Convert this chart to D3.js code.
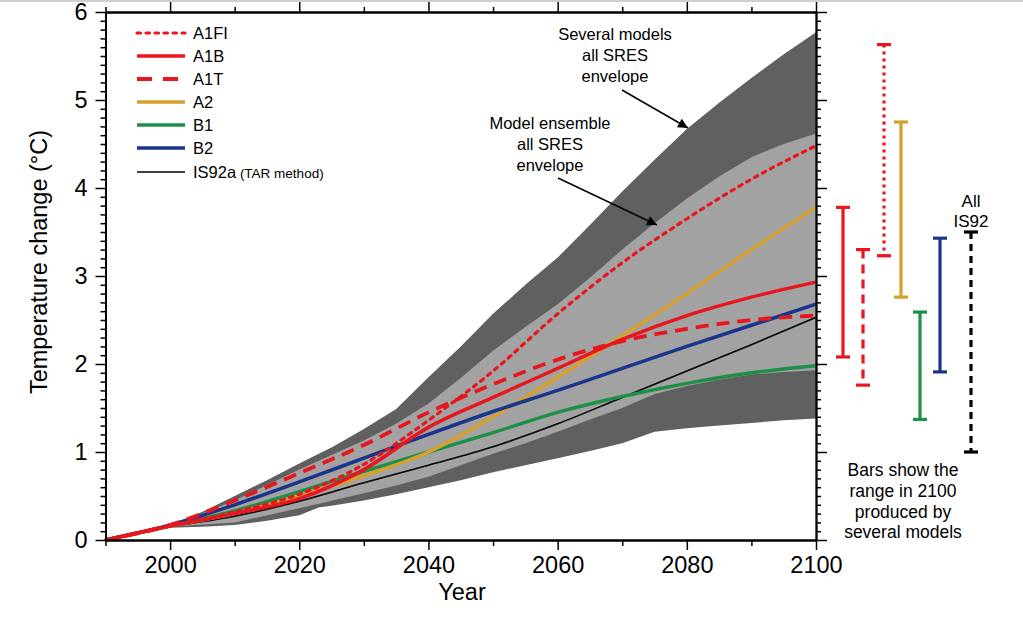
<!DOCTYPE html>
<html><head><meta charset="utf-8">
<script src="https://cdn.jsdelivr.net/npm/d3@7"></script>
<style>
html,body{margin:0;padding:0;background:#fff;}
svg{display:block;font-family:"Liberation Sans",Arial,Helvetica,sans-serif;}
</style></head>
<body>
<svg id="chart" width="1023" height="625"></svg>
<script>
// ---------------- DATA ----------------
const years = [1990, 2000, 2010, 2020, 2030, 2040, 2050, 2060, 2070, 2080, 2090, 2100];
const seriesNames = ["A1FI", "A1B", "A1T", "A2", "B1", "B2", "IS92a"];
const A1FI  = [0, 0.16, 0.32, 0.52, 0.86, 1.36, 1.92, 2.57, 3.15, 3.65, 4.10, 4.48];
const A1B   = [0, 0.16, 0.30, 0.47, 0.80, 1.28, 1.62, 1.95, 2.28, 2.55, 2.76, 2.93];
const A1T   = [0, 0.17, 0.45, 0.76, 1.08, 1.45, 1.77, 2.05, 2.26, 2.40, 2.50, 2.55];
const A2    = [0, 0.16, 0.30, 0.50, 0.73, 1.00, 1.40, 1.85, 2.32, 2.80, 3.30, 3.78];
const B1    = [0, 0.16, 0.33, 0.55, 0.78, 1.00, 1.22, 1.45, 1.63, 1.78, 1.90, 1.98];
const B2    = [0, 0.17, 0.40, 0.66, 0.93, 1.20, 1.46, 1.70, 1.95, 2.20, 2.44, 2.68];
const IS92a = [0, 0.15, 0.27, 0.44, 0.65, 0.85, 1.06, 1.32, 1.62, 1.92, 2.22, 2.53];

// Several models, all SRES envelope (outer, dark)
const outerYears = [1990,2000,2005,2010,2015,2020,2023,2025,2030,2035,2040,2045,2050,2055,2060,2065,2070,2075,2080,2085,2090,2095,2100];
const outerUpper = [0,0.17,0.32,0.50,0.68,0.87,0.98,1.05,1.26,1.49,1.85,2.20,2.57,2.90,3.21,3.58,3.96,4.32,4.67,4.97,5.25,5.52,5.77];
const outerLower = [0,0.14,0.15,0.17,0.22,0.28,0.37,0.39,0.45,0.52,0.60,0.68,0.77,0.85,0.93,1.01,1.10,1.23,1.27,1.30,1.33,1.36,1.38];

// Model ensemble, all SRES envelope (inner, light)
const innerYears = [1990,2000,2010,2020,2030,2035,2040,2045,2050,2055,2060,2065,2070,2075,2080,2085,2090,2095,2100];
const innerUpper = [0,0.16,0.45,0.80,1.13,1.32,1.55,1.84,2.15,2.42,2.68,2.98,3.30,3.60,3.88,4.13,4.35,4.50,4.62];
const innerLower = [0,0.15,0.20,0.36,0.53,0.62,0.72,0.85,0.98,1.10,1.23,1.37,1.50,1.66,1.75,1.82,1.88,1.91,1.93];

// Range bars in 2100
const barNames = ["A1B", "A1T", "A1FI", "A2", "B1", "B2", "IS92"];
const barLow   = [2.08, 1.76, 3.23, 2.76, 1.37, 1.91, 1.00];
const barHigh  = [3.78, 3.30, 5.63, 4.75, 2.59, 3.43, 3.50];

// Tick labels
const xTickLabels = [2000, 2020, 2040, 2060, 2080, 2100];
const yTickLabels = [0, 1, 2, 3, 4, 5, 6];

// ---------------- LAYOUT / STYLE ----------------
const W = 1023, H = 625;
const L = 105.5, R = 816, T = 12, B = 540;
const barX = [843, 863, 884, 901, 920, 940, 971];
const RED = "#e8161e", GOLD = "#d7a02c", GREEN = "#1d8f47", BLUE = "#1b358c";
const DARK = "#606060", LIGHT = "#a2a2a2";
const styles = {
  A1FI:  {color: RED,   width: 3.2, dash: "3.5,5.5", cap: "round"},
  A1B:   {color: RED,   width: 3.5, dash: null},
  A1T:   {color: RED,   width: 3.8, dash: "13,8"},
  A2:    {color: GOLD,  width: 3.5, dash: null},
  B1:    {color: GREEN, width: 3.5, dash: null},
  B2:    {color: BLUE,  width: 3.5, dash: null},
  IS92a: {color: "#000", width: 1.6, dash: null}
};
const barStyles = {
  A1B:  {color: RED,   dash: null},
  A1T:  {color: RED,   dash: "9,6"},
  A1FI: {color: RED,   dash: "3,4"},
  A2:   {color: GOLD,  dash: null},
  B1:   {color: GREEN, dash: null},
  B2:   {color: BLUE,  dash: null},
  IS92: {color: "#000", dash: "7,5"}
};

const svg = d3.select("#chart");
const x = d3.scaleLinear().domain([1990, 2100]).range([L, R]);
const y = d3.scaleLinear().domain([0, 6]).range([B, T]);

// faint top border line of the image
svg.append("line").attr("x1", 0).attr("x2", W).attr("y1", 1).attr("y2", 1)
  .attr("stroke", "#cfcfcf").attr("stroke-width", 2);

// ---------------- ENVELOPES ----------------
const outerData = outerYears.map((yr, i) => ({yr, lo: outerLower[i], hi: outerUpper[i]}));
const innerData = innerYears.map((yr, i) => ({yr, lo: innerLower[i], hi: innerUpper[i]}));
const area = d3.area().x(d => x(d.yr)).y0(d => y(d.lo)).y1(d => y(d.hi));
svg.append("path").datum(outerData).attr("d", area).attr("fill", DARK);
svg.append("path").datum(innerData).attr("d", area).attr("fill", LIGHT);

// ---------------- LINES ----------------
const seriesVals = {A1FI, A1B, A1T, A2, B1, B2, IS92a};
const line = d3.line().x(d => x(d.yr)).y(d => y(d.v)).curve(d3.curveMonotoneX);
const drawOrder = ["IS92a", "B1", "A2", "B2", "A1B", "A1T", "A1FI"];
drawOrder.forEach(name => {
  const st = styles[name];
  const data = years.map((yr, i) => ({yr, v: seriesVals[name][i]}));
  svg.append("path").datum(data).attr("d", line)
    .attr("fill", "none").attr("stroke", st.color).attr("stroke-width", st.width)
    .attr("stroke-dasharray", st.dash).attr("stroke-linecap", st.cap || "butt");
});

// ---------------- AXES ----------------
const majorY = yTickLabels;
const minorY = d3.range(0, 60).map(i => i / 10).filter(v => Math.abs(v - Math.round(v)) > 1e-6);
const majorX = xTickLabels;
const minorX = [1990, 2010, 2030, 2050, 2070, 2090];

function styleAxis(g) {
  g.selectAll("path.domain").attr("stroke", "#000").attr("stroke-width", 1.8);
  g.selectAll(".tick line").attr("stroke", "#000").attr("stroke-width", 1.5);
}
// left
svg.append("g").attr("transform", `translate(${L},0)`)
  .call(d3.axisLeft(y).tickValues(minorY).tickSize(5).tickFormat("").tickSizeOuter(0)).call(styleAxis);
svg.append("g").attr("transform", `translate(${L},0)`)
  .call(d3.axisLeft(y).tickValues(majorY).tickSize(10).tickPadding(8).tickFormat(d3.format("d")).tickSizeOuter(0))
  .call(styleAxis)
  .call(g => g.selectAll("text").attr("font-size", 23.5).attr("fill", "#000").attr("font-family", "Liberation Sans, Arial, sans-serif"));
// right
svg.append("g").attr("transform", `translate(${R},0)`)
  .call(d3.axisRight(y).tickValues(minorY).tickSize(5).tickFormat("").tickSizeOuter(0)).call(styleAxis);
svg.append("g").attr("transform", `translate(${R},0)`)
  .call(d3.axisRight(y).tickValues(majorY).tickSize(11).tickFormat("").tickSizeOuter(0)).call(styleAxis);
// bottom
svg.append("g").attr("transform", `translate(0,${B})`)
  .call(d3.axisBottom(x).tickValues(minorX).tickSize(6).tickFormat("").tickSizeOuter(0)).call(styleAxis);
svg.append("g").attr("transform", `translate(0,${B})`)
  .call(d3.axisBottom(x).tickValues(majorX).tickSize(10).tickPadding(6).tickFormat(d3.format("d")).tickSizeOuter(0))
  .call(styleAxis)
  .call(g => g.selectAll("text").attr("font-size", 23.5).attr("fill", "#000").attr("font-family", "Liberation Sans, Arial, sans-serif"));
// top
svg.append("g").attr("transform", `translate(0,${T})`)
  .call(d3.axisTop(x).tickValues(minorX).tickSize(5).tickFormat("").tickSizeOuter(0)).call(styleAxis);
svg.append("g").attr("transform", `translate(0,${T})`)
  .call(d3.axisTop(x).tickValues(majorX).tickSize(10).tickFormat("").tickSizeOuter(0)).call(styleAxis);

// axis titles
svg.append("text").attr("x", 462).attr("y", 600).attr("text-anchor", "middle")
  .attr("font-size", 23.5).text("Year");
svg.append("text").attr("transform", `translate(47,${(T + B) / 2 - 14}) rotate(-90)`)
  .attr("text-anchor", "middle").attr("font-size", 23.5).text("Temperature change (°C)");

// ---------------- LEGEND ----------------
const legRowY = [33, 56, 79, 102, 125, 148, 172];
const lg = svg.append("g");
seriesNames.forEach((name, i) => {
  const st = styles[name];
  const yy = legRowY[i];
  lg.append("line").attr("x1", 137).attr("x2", 185).attr("y1", yy).attr("y2", yy)
    .attr("stroke", st.color).attr("stroke-width", st.width)
    .attr("stroke-dasharray", name === "A1T" ? "15,11" : st.dash)
    .attr("stroke-linecap", st.cap || "butt");
  const t = lg.append("text").attr("x", 193).attr("y", yy + 6).attr("font-size", 16.5);
  t.append("tspan").text(name);
  if (name === "IS92a") t.append("tspan").attr("font-size", 13.5).text(" (TAR method)");
});

// ---------------- RANGE BARS ----------------
const capW = 7;
barNames.forEach((name, i) => {
  const st = barStyles[name];
  const bx = barX[i], y1 = y(barHigh[i]), y2 = y(barLow[i]);
  const g = svg.append("g");
  g.append("line").attr("x1", bx).attr("x2", bx).attr("y1", y1).attr("y2", y2)
    .attr("stroke", st.color).attr("stroke-width", 3.2).attr("stroke-dasharray", st.dash);
  [y1, y2].forEach(yy => g.append("line").attr("x1", bx - capW).attr("x2", bx + capW)
    .attr("y1", yy).attr("y2", yy).attr("stroke", st.color).attr("stroke-width", 3.2));
});
svg.append("text").attr("x", 971).attr("text-anchor", "middle").attr("font-size", 17)
  .selectAll("tspan").data(["All", "IS92"]).join("tspan")
  .attr("x", 971).attr("y", (d, i) => 207 + i * 20).text(d => d);

svg.append("text").attr("text-anchor", "middle").attr("font-size", 17.5)
  .selectAll("tspan").data(["Bars show the", "range in 2100", "produced by", "several models"]).join("tspan")
  .attr("x", 903).attr("y", (d, i) => 476 + i * 20.8).text(d => d);

// ---------------- ANNOTATIONS ----------------
const defs = svg.append("defs");
defs.append("marker").attr("id", "arrow").attr("viewBox", "0 0 10 10").attr("refX", 10).attr("refY", 5)
  .attr("markerWidth", 14).attr("markerHeight", 10).attr("markerUnits", "userSpaceOnUse").attr("orient", "auto")
  .append("path").attr("d", "M0,0 L10,5 L0,10 Z").attr("fill", "#000");

svg.append("text").attr("text-anchor", "middle").attr("font-size", 16.5)
  .selectAll("tspan").data(["Several models", "all SRES", "envelope"]).join("tspan")
  .attr("x", 615).attr("y", (d, i) => 40 + i * 21).text(d => d);
svg.append("line").attr("x1", 622).attr("y1", 90).attr("x2", 688).attr("y2", 128)
  .attr("stroke", "#000").attr("stroke-width", 1.5).attr("marker-end", "url(#arrow)");

svg.append("text").attr("text-anchor", "middle").attr("font-size", 16.5)
  .selectAll("tspan").data(["Model ensemble", "all SRES", "envelope"]).join("tspan")
  .attr("x", 550).attr("y", (d, i) => 129 + i * 21).text(d => d);
svg.append("line").attr("x1", 558).attr("y1", 178).attr("x2", 657).attr("y2", 225)
  .attr("stroke", "#000").attr("stroke-width", 1.5).attr("marker-end", "url(#arrow)");
</script>
</body></html>
